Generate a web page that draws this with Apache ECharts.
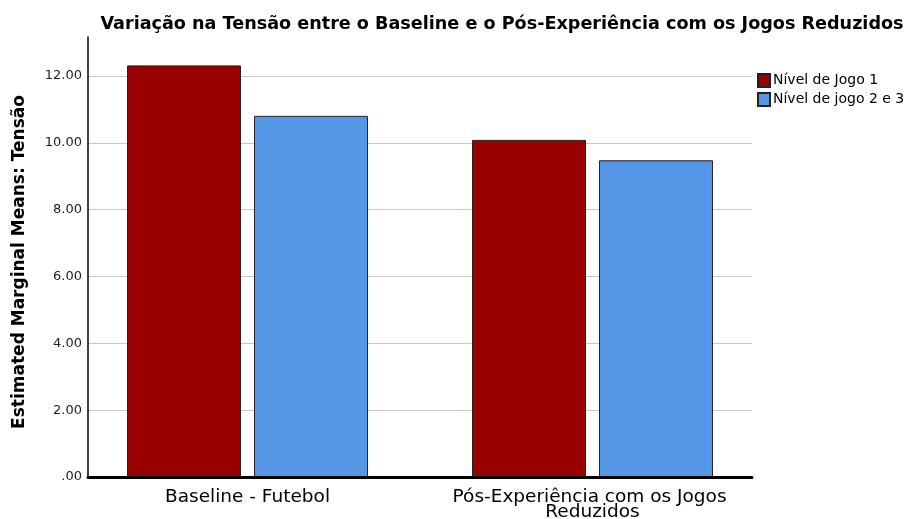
<!DOCTYPE html>
<html>
<head>
<meta charset="utf-8">
<script src="https://cdn.jsdelivr.net/npm/echarts@6/dist/echarts.min.js"></script>
<style>html,body{margin:0;padding:0;background:#fff}#c{width:915px;height:519px}</style>
</head>
<body>
<div id="c"></div>
<script>
const titleText = 'Variação na Tensão entre o Baseline e o Pós-Experiência com os Jogos Reduzidos';
const yAxisTitle = 'Estimated Marginal Means: Tensão';
const categories = ['Baseline - Futebol', 'Pós-Experiência com os Jogos Reduzidos'];
const seriesNames = ['Nível de Jogo 1', 'Nível de jogo 2 e 3'];
const nivel1 = [12.32, 10.09];
const nivel23 = [10.81, 9.48];
const yMin = 0, yMax = 13.17, yStep = 2;

const font = 'DejaVu Sans';
const chart = echarts.init(document.getElementById('c'), null, {renderer: 'canvas'});
const gridTop = 37, gridHeight = 440;
chart.setOption({
  animation: false,
  backgroundColor: '#fff',
  textStyle: {fontFamily: font},
  title: {
    text: titleText, left: 497, top: 10, textAlign: 'center',
    textStyle: {fontFamily: font, fontWeight: 'bold', fontSize: 17.6, color: '#000'}
  },
  legend: {
    orient: 'vertical', left: 752, top: 68, itemWidth: 12, itemHeight: 13, itemGap: 4,
    icon: 'rect', data: seriesNames,
    textStyle: {fontFamily: font, fontSize: 14, color: '#000', padding: [0, 0, 0, -2]}
  },
  grid: [
    {left: 88, top: gridTop, width: 664, height: gridHeight, outerBoundsMode: 'none', containLabel: false},
    {left: 75, top: gridTop, width: 690, height: gridHeight, outerBoundsMode: 'none', containLabel: false}
  ],
  xAxis: [
    {type: 'category', gridIndex: 0, data: categories, z: 10,
     axisLine: {show: true, lineStyle: {color: '#000', width: 3}},
     axisTick: {show: false}, axisLabel: {show: false}, splitLine: {show: false}},
    {type: 'category', gridIndex: 1, data: categories,
     axisLine: {show: false}, axisTick: {show: false},
     axisLabel: {fontFamily: font, fontSize: 18.5, color: '#000', margin: 13, lineHeight: 15,
                 width: 320, overflow: 'break', interval: 0}}
  ],
  yAxis: [
    {type: 'value', gridIndex: 0, min: yMin, max: yMax, interval: yStep,
     name: yAxisTitle, nameLocation: 'middle', nameGap: 60,
     nameTextStyle: {fontFamily: font, fontWeight: 'bold', fontSize: 17, color: '#000', padding: [0, 0, 0, -10]},
     axisLine: {show: true, lineStyle: {color: '#000', width: 1.5}},
     axisTick: {show: false},
     axisLabel: {showMaxLabel: false, fontFamily: font, fontSize: 13, color: '#222', margin: 6,
                 formatter: v => v === 0 ? '.00' : v.toFixed(2)},
     splitLine: {show: true, showMaxLine: false, showMinLine: false, lineStyle: {color: '#c8c8c8', width: 1}}},
    {type: 'value', gridIndex: 1, min: yMin, max: yMax, interval: yStep, show: false, splitLine: {show: false}}
  ],
  series: [
    {name: seriesNames[0], type: 'bar', xAxisIndex: 1, yAxisIndex: 1, data: nivel1,
     barWidth: 114, barGap: '11.4%',
     itemStyle: {color: '#990000', borderColor: '#222', borderWidth: 1}},
    {name: seriesNames[1], type: 'bar', xAxisIndex: 1, yAxisIndex: 1, data: nivel23,
     barWidth: 114, barGap: '11.4%',
     itemStyle: {color: '#5596E6', borderColor: '#222', borderWidth: 1}}
  ]
});
</script>
</body>
</html>
